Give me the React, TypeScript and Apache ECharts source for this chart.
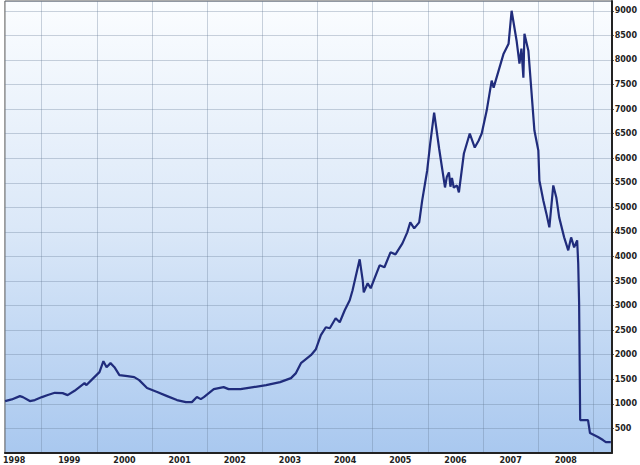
import React, { useEffect, useRef } from "react";
import * as echarts from "echarts";

// Index level (date, value)
const dates: string[] = [
  "1998-05-02", "1998-06-15", "1998-08-08", "1998-08-28", "1998-10-13", "1998-11-15",
  "1999-01-01", "1999-02-09", "1999-03-27", "1999-05-18", "1999-06-20", "1999-08-05",
  "1999-10-10", "1999-10-23", "1999-12-01", "2000-01-17", "2000-02-12", "2000-03-04",
  "2000-03-30", "2000-04-25", "2000-05-28", "2000-07-20", "2000-09-03", "2000-10-06",
  "2000-11-27", "2001-02-02", "2001-04-09", "2001-06-13", "2001-08-11", "2001-09-20",
  "2001-10-23", "2001-11-18", "2001-12-08", "2002-02-12", "2002-04-18", "2002-05-21",
  "2002-08-08", "2002-11-01", "2003-01-25", "2003-04-27", "2003-07-08", "2003-08-10",
  "2003-09-12", "2003-11-17", "2003-12-20", "2004-01-22", "2004-02-24", "2004-03-21",
  "2004-04-29", "2004-05-26", "2004-06-28", "2004-07-31", "2004-08-19", "2004-10-05",
  "2004-10-25", "2004-11-01", "2004-11-27", "2004-12-17", "2005-02-14", "2005-03-18",
  "2005-04-27", "2005-05-30", "2005-07-15", "2005-08-16", "2005-09-05", "2005-10-01",
  "2005-11-03", "2005-11-23", "2005-12-26", "2006-01-15", "2006-02-10", "2006-03-15",
  "2006-04-04", "2006-04-23", "2006-05-05", "2006-05-19", "2006-05-29", "2006-06-08",
  "2006-06-20", "2006-07-11", "2006-07-24",
  "2006-08-26", "2006-10-04", "2006-11-06", "2006-12-02", "2006-12-22", "2007-01-24",
  "2007-02-26", "2007-03-11", "2007-04-13", "2007-05-16", "2007-06-18", "2007-07-08",
  "2007-08-10", "2007-08-29", "2007-09-11", "2007-09-24", "2007-10-01", "2007-10-27",
  "2007-11-16", "2007-12-06", "2008-01-01", "2008-01-08", "2008-02-03", "2008-02-23",
  "2008-03-14", "2008-04-09", "2008-04-29", "2008-05-18", "2008-06-20", "2008-07-17",
  "2008-08-05", "2008-08-25", "2008-09-14", "2008-09-21", "2008-09-27", "2008-10-04",
  "2008-11-25", "2008-12-08", "2009-01-30", "2009-03-04", "2009-03-23", "2009-04-25",
];

const values: number[] = [
  1057, 1091, 1158, 1138, 1057, 1077,
  1138, 1179, 1225, 1219, 1178, 1266,
  1422, 1382, 1504, 1646, 1869, 1747,
  1829, 1747, 1585, 1565, 1544, 1483,
  1321, 1240, 1158, 1077, 1036, 1036,
  1138, 1097, 1138, 1300, 1341, 1300,
  1300, 1341, 1382, 1443, 1524, 1626,
  1829, 1991, 2113, 2398, 2560, 2540,
  2743, 2662, 2906, 3109, 3312, 3942,
  3515, 3271, 3454, 3353, 3820, 3780,
  4084, 4043, 4267, 4491, 4694, 4572,
  4694, 5141, 5751, 6299, 6929, 6198,
  5791, 5405, 5620, 5710, 5420, 5600,
  5400, 5446, 5304,
  6096, 6502, 6218, 6360, 6502, 6970,
  7579, 7437, 7783, 8128, 8331, 9002,
  8392, 7925, 8230, 7640, 8534, 8189,
  7376, 6563, 6157, 5547, 5141, 4877,
  4592, 5446, 5202, 4796, 4389, 4125,
  4389, 4186, 4328, 3861, 3048, 670,
  670, 406, 325, 264, 223, 223,
];

// Axis ranges
const X_START = "1998-05-01";
const X_END = "2009-05-01";
const Y_MIN = 0;
const Y_MAX = 9200;
const Y_STEP = 500;

// Monthly categories used for year gridlines (January) and year labels (July)
const months: string[] = (() => {
  const out: string[] = [];
  let y = 1998;
  let m = 5;
  while (y < 2009 || (y === 2009 && m <= 5)) {
    out.push(`${y}-${String(m).padStart(2, "0")}`);
    m++;
    if (m > 12) {
      m = 1;
      y++;
    }
  }
  return out;
})();

export default function App() {
  const ref = useRef<HTMLDivElement>(null);

  useEffect(() => {
    if (!ref.current) return;
    const chart = echarts.init(ref.current, undefined, { renderer: "svg" });
    const gridColor = "rgba(100,120,150,0.33)";
    const font = "DejaVu Sans";
    chart.setOption({
      animation: false,
      grid: {
        left: 1,
        right: 28,
        top: 1,
        bottom: 12,
        show: true,
        borderColor: "#555",
        borderWidth: 1,
        backgroundColor: new echarts.graphic.LinearGradient(0, 0, 0, 1, [
          { offset: 0, color: "#fbfdff" },
          { offset: 0.5, color: "#dbe8f8" },
          { offset: 1, color: "#a9c8ef" },
        ]),
      },
      xAxis: [
        {
          type: "category",
          data: months,
          boundaryGap: false,
          position: "bottom",
          axisLine: { show: true, lineStyle: { color: "#222", width: 2 } },
          axisTick: { show: false },
          axisLabel: {
            interval: (_i: number, v: string) => v.endsWith("-07"),
            formatter: (v: string) => v.slice(0, 4),
            fontSize: 8,
            fontWeight: "bold",
            fontFamily: font,
            color: "#222",
            margin: 3,
          },
          splitLine: {
            show: true,
            interval: (_i: number, v: string) => v.endsWith("-01"),
            lineStyle: { color: gridColor, width: 1 },
          },
        },
        {
          type: "time",
          min: X_START,
          max: X_END,
          show: false,
          splitLine: { show: false },
        },
      ],
      yAxis: {
        type: "value",
        position: "right",
        min: Y_MIN,
        max: Y_MAX,
        interval: Y_STEP,
        axisLine: { show: true, lineStyle: { color: "#222", width: 2 } },
        axisTick: { show: true, length: 2, lineStyle: { color: "#222" } },
        axisLabel: {
          showMinLabel: false,
          showMaxLabel: false,
          formatter: (v: number) => String(v),
          fontSize: 8,
          fontWeight: "bold",
          fontFamily: font,
          color: "#222",
          margin: 3,
        },
        splitLine: { show: true, lineStyle: { color: gridColor, width: 1 } },
      },
      series: [
        {
          type: "line",
          xAxisIndex: 1,
          data: dates.map((d, i) => [d, values[i]]),
          showSymbol: false,
          symbol: "none",
          lineStyle: { color: "#202c7c", width: 2.2 },
          clip: true,
        },
      ],
    });
    return () => chart.dispose();
  }, []);

  return (
    <div
      ref={ref}
      style={{ position: "absolute", left: 0, top: 0, width: 640, height: 465, background: "#fff" }}
    />
  );
}
